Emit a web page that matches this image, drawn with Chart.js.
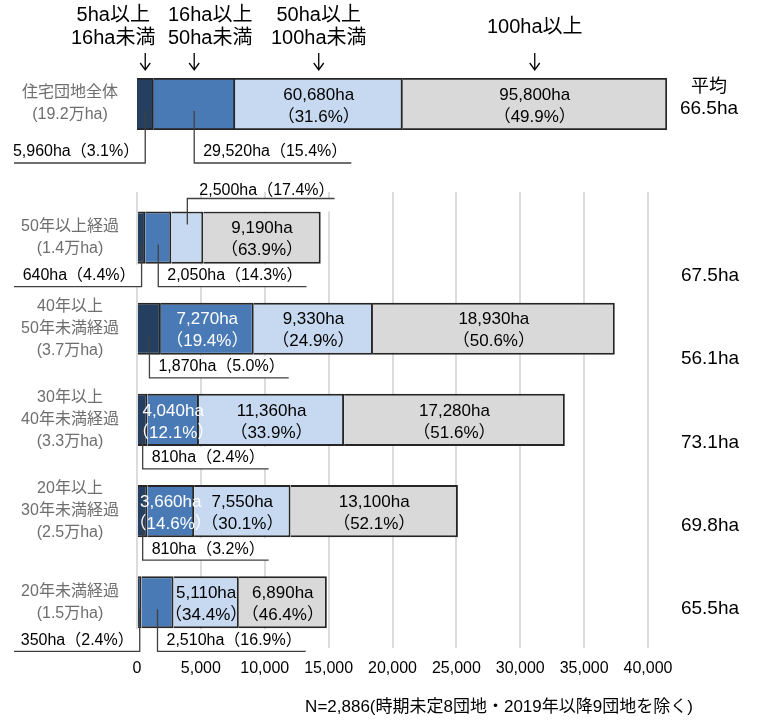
<!DOCTYPE html>
<html lang="ja">
<head>
<meta charset="utf-8">
<script src="https://cdn.jsdelivr.net/npm/chart.js@4.4.1/dist/chart.umd.min.js"></script>
<style>
  html, body { margin: 0; padding: 0; background: #fff; }
  #wrap { position: relative; width: 758px; height: 720px; }
  #wrap canvas { position: absolute; left: 0; top: 0; }
</style>
</head>
<body>
<div id="wrap">
  <canvas id="ageChart" width="758" height="720"></canvas>
  <canvas id="totalChart" width="758" height="720"></canvas>
</div>
<script>
// size classes, in stack order (left to right)
const sizeClasses = [['5ha以上', '16ha未満'], ['16ha以上', '50ha未満'], ['50ha以上', '100ha未満'], ['100ha以上']];

// all housing estates
const totalLabel = ['住宅団地全体', '(19.2万ha)'];
const totalValues = [5960, 29520, 60680, 95800];
const totalPcts = [3.1, 15.4, 31.6, 49.9];
const totalAverage = ['平均', '66.5ha'];

// by years since development
const ageLabels = [
    ['50年以上経過', '(1.4万ha)'],
    ['40年以上', '50年未満経過', '(3.7万ha)'],
    ['30年以上', '40年未満経過', '(3.3万ha)'],
    ['20年以上', '30年未満経過', '(2.5万ha)'],
    ['20年未満経過', '(1.5万ha)']
];
const size5to16 = [640, 1870, 810, 810, 350];
const size16to50 = [2050, 7270, 4040, 3660, 2510];
const size50to100 = [2500, 9330, 11360, 7550, 5110];
const size100plus = [9190, 18930, 17280, 13100, 6890];
const pct5to16 = [4.4, 5.0, 2.4, 3.2, 2.4];
const pct16to50 = [14.3, 19.4, 12.1, 14.6, 16.9];
const pct50to100 = [17.4, 24.9, 33.9, 30.1, 34.4];
const pct100plus = [63.9, 50.6, 51.6, 52.1, 46.4];
const ageAverages = ['67.5ha', '56.1ha', '73.1ha', '69.8ha', '65.5ha'];

const xMax = 40000;
const xStep = 5000;
const note = 'N=2,886(時期未定8団地・2019年以降9団地を除く)';

// where each value label goes: in = inside the bar,
// bl / br = callout below to the left / right, ar = callout above to the right
const totalPlacement = [['bl', 'br', 'in', 'in']];
const agePlacement = [
    ['bl', 'br', 'ar', 'in'],
    ['br', 'in', 'in', 'in'],
    ['br', 'in', 'in', 'in'],
    ['br', 'in', 'in', 'in'],
    ['bl', 'br', 'in', 'in']
];

const fills = ['#253f60', '#4a7ab5', '#c6d9f0', '#d9d9d9'];
const insideText = ['#fff', '#fff', '#000', '#000'];
const headerShift = [-32, 16, 0, 0];
const FONT = '"Liberation Sans", "Noto Sans CJK JP", sans-serif';

const fmt = v => v.toLocaleString('en-US');

function drawValueLabels(chart, series, pcts, placement, drop) {
    const ctx = chart.ctx;
    ctx.save();
    series.forEach((vals, i) => {
        chart.getDatasetMeta(i).data.forEach((bar, j) => {
            const { x, y, base, height } = bar.getProps(['x', 'y', 'base', 'height'], true);
            const cx = (x + base) / 2;
            const top = y - height / 2;
            const bottom = y + height / 2;
            const v = fmt(vals[j]) + 'ha';
            const p = '（' + pcts[i][j].toFixed(1) + '%）';
            const where = placement[j][i];

            if (where === 'in') {
                ctx.fillStyle = insideText[i];
                ctx.font = '17px ' + FONT;
                ctx.textAlign = 'center';
                ctx.textBaseline = 'middle';
                ctx.fillText(v, cx, y - 9);
                ctx.fillText(p, cx, y + 13);
                return;
            }

            ctx.font = '16px ' + FONT;
            const w = ctx.measureText(v + p).width;
            let y0, lineY, x1, tx, ty, align;
            if (where === 'ar') {
                y0 = top + 13; lineY = top - 13;
                tx = cx + 12; x1 = tx + w; align = 'left'; ty = lineY - 8;
                ctx.fillStyle = '#fff';
                ctx.fillRect(cx, lineY, x1 - cx, top - lineY);
            } else {
                y0 = y + 7; lineY = bottom + drop; ty = lineY - 11;
                ctx.fillStyle = '#fff';
                if (where === 'bl') {
                    x1 = 14; tx = cx - 6; align = 'right';
                    ctx.fillRect(x1, bottom + 1, cx - x1, lineY - bottom - 1);
                } else {
                    tx = cx + 9; x1 = tx + w + 4; align = 'left';
                    ctx.fillRect(cx, bottom + 1, x1 - cx, lineY - bottom - 1);
                }
            }
            ctx.strokeStyle = '#404040';
            ctx.lineWidth = 1.3;
            ctx.beginPath();
            ctx.moveTo(cx, y0);
            ctx.lineTo(cx, lineY);
            ctx.lineTo(x1, lineY);
            ctx.stroke();

            ctx.fillStyle = '#000';
            ctx.textAlign = align;
            ctx.textBaseline = 'middle';
            ctx.fillText(v + p, tx, ty);
        });
    });
    ctx.restore();
}

function drawCategory(ctx, lines, cy) {
    ctx.fillStyle = '#6e6e6e';
    ctx.font = '16px ' + FONT;
    ctx.textAlign = 'center';
    ctx.textBaseline = 'middle';
    lines.forEach((t, k) => ctx.fillText(t, 70, cy + (k - (lines.length - 1) / 2) * 22));
}

function makeDatasets(series, thickness) {
    return series.map((vals, i) => ({
        label: sizeClasses[i].join(''),
        data: vals,
        backgroundColor: fills[i],
        borderColor: '#262626',
        borderWidth: 2,
        borderSkipped: 'start',
        barPercentage: thickness,
        categoryPercentage: 1
    }));
}

// 1. Top: all housing estates, scaled to its own total
const totalSeries = totalValues.map(v => [v]);
const totalPctRows = totalPcts.map(p => [p]);
const totalSum = totalValues.reduce((s, v) => s + v, 0);

new Chart(document.getElementById('totalChart'), {
    type: 'bar',
    data: { labels: [totalLabel], datasets: makeDatasets(totalSeries, 1) },
    options: {
        indexAxis: 'y',
        responsive: false,
        animation: false,
        layout: { padding: { left: 137, right: 91, top: 78, bottom: 590 } },
        scales: {
            x: { display: false, stacked: true, min: 0, max: totalSum },
            y: { display: false, stacked: true }
        },
        plugins: { legend: { display: false }, tooltip: { enabled: false } }
    },
    plugins: [{
        id: 'totalAnnotations',
        afterDatasetsDraw(chart) {
            const ctx = chart.ctx;
            drawValueLabels(chart, totalSeries, totalPctRows, totalPlacement, 33);
            ctx.save();
            const cy = chart.scales.y.getPixelForValue(0);
            drawCategory(ctx, totalLabel, cy);

            // size class headers with arrows
            sizeClasses.forEach((lines, i) => {
                const bar = chart.getDatasetMeta(i).data[0];
                const ax = (bar.x + bar.base) / 2;
                ctx.fillStyle = '#000';
                ctx.font = '20px ' + FONT;
                ctx.textAlign = 'center';
                ctx.textBaseline = 'middle';
                lines.forEach((t, k) => ctx.fillText(t, ax + headerShift[i], 27 + (k - (lines.length - 1) / 2) * 23));
                ctx.strokeStyle = '#000';
                ctx.lineWidth = 1.3;
                ctx.beginPath();
                ctx.moveTo(ax, 53); ctx.lineTo(ax, 70);
                ctx.moveTo(ax - 5, 63); ctx.lineTo(ax, 70); ctx.lineTo(ax + 5, 63);
                ctx.stroke();
            });

            ctx.fillStyle = '#000';
            ctx.textAlign = 'center';
            ctx.font = '18px ' + FONT;
            ctx.fillText(totalAverage[0], 709, 87);
            ctx.font = '19px ' + FONT;
            ctx.fillText(totalAverage[1], 709, 109);
            ctx.restore();
        }
    }]
});

// 2. Bottom: by years since development
const ageSeries = [size5to16, size16to50, size50to100, size100plus];
const agePcts = [pct5to16, pct16to50, pct50to100, pct100plus];

new Chart(document.getElementById('ageChart'), {
    type: 'bar',
    data: { labels: ageLabels, datasets: makeDatasets(ageSeries, 0.572) },
    options: {
        indexAxis: 'y',
        responsive: false,
        animation: false,
        layout: { padding: { left: 137, right: 110, top: 192, bottom: 31 } },
        scales: {
            x: {
                stacked: true,
                min: 0,
                max: xMax,
                ticks: {
                    stepSize: xStep,
                    color: '#000',
                    padding: 11,
                    maxRotation: 0,
                    font: { family: FONT, size: 16 },
                    callback: v => fmt(v)
                },
                grid: { color: '#dcdcdc', lineWidth: 2, drawTicks: false },
                border: { display: false }
            },
            y: { display: false, stacked: true }
        },
        plugins: { legend: { display: false }, tooltip: { enabled: false } }
    },
    plugins: [{
        id: 'ageAnnotations',
        afterDatasetsDraw(chart) {
            const ctx = chart.ctx;
            drawValueLabels(chart, ageSeries, agePcts, agePlacement, 23);
            ctx.save();
            const area = chart.chartArea;
            ageLabels.forEach((lines, j) => drawCategory(ctx, lines, chart.scales.y.getPixelForValue(j)));

            ctx.fillStyle = '#000';
            ctx.font = '19px ' + FONT;
            ctx.textAlign = 'center';
            ctx.textBaseline = 'middle';
            ageAverages.forEach((t, j) => ctx.fillText(t, 710, area.top + 84 + j * 83.25));

            ctx.font = '17px ' + FONT;
            ctx.fillText(note, 499, 707);
            ctx.restore();
        }
    }]
});
</script>
</body>
</html>
